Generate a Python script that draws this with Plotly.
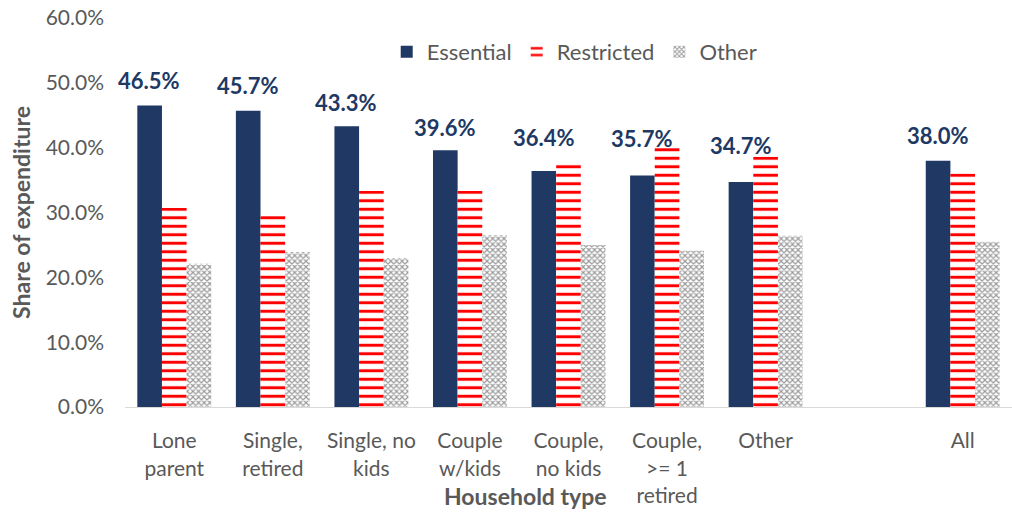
import plotly.graph_objects as go

categories = ["Lone<br>parent", "Single,<br>retired", "Single, no<br>kids", "Couple<br>w/kids",
              "Couple,<br>no kids", "Couple,<br>>= 1<br>retired", "Other", " ", "All"]
essential = [0.465, 0.457, 0.433, 0.396, 0.364, 0.357, 0.347, None, 0.380]
restricted = [0.307, 0.295, 0.333, 0.333, 0.377, 0.400, 0.386, None, 0.360]
other = [0.221, 0.239, 0.230, 0.265, 0.250, 0.241, 0.264, None, 0.255]
label_shift = [25, 25, 24, 23, 34, 37, 37, 0, 25]

FONT = "Lato"
GRAY = "#595959"
NAVY = "#203864"

fig = go.Figure()
fig.add_trace(go.Bar(name="Essential", x=categories, y=essential,
                     marker=dict(color=NAVY, line=dict(width=0))))
fig.add_trace(go.Bar(name="Restricted", x=categories, y=restricted,
                     marker=dict(color="white", line=dict(width=0),
                                 pattern=dict(shape="-", fgcolor="#ff0000", bgcolor="white",
                                              fgopacity=1, size=8.5, solidity=0.35,
                                              fillmode="overlay"))))
fig.add_trace(go.Bar(name="Other", x=categories, y=other,
                     marker=dict(color="white", line=dict(width=0),
                                 pattern=dict(shape="x", fgcolor="#9a9a9a", bgcolor="white",
                                              fgopacity=1, size=4, solidity=0.5,
                                              fillmode="overlay"))))

for c, v, s in zip(categories, essential, label_shift):
    if v is None:
        continue
    fig.add_annotation(x=c, y=v, text=f"<b>{v*100:.1f}%</b>", showarrow=False,
                       xshift=-25, yshift=s, yanchor="middle",
                       font=dict(family=FONT, size=22, color=NAVY))

fig.add_annotation(xref="paper", yref="paper", x=0.451, y=-0.229, xanchor="center", yanchor="middle",
                   text="<b>Household type</b>", showarrow=False,
                   font=dict(family=FONT, size=23, color=GRAY))

fig.update_layout(
    width=1012, height=513,
    margin=dict(l=125, r=0, t=18, b=106),
    paper_bgcolor="white", plot_bgcolor="white",
    barmode="group", bargap=0.25, bargroupgap=0,
    font=dict(family=FONT, color=GRAY, size=17),
    legend=dict(orientation="h", x=0.507, xanchor="center", y=0.913, yanchor="middle",
                font=dict(family=FONT, size=22, color=GRAY), itemwidth=30,
                bgcolor="rgba(0,0,0,0)"),
    xaxis=dict(type="category", showgrid=False, showline=True, linecolor="#d9d9d9", linewidth=1,
               ticks="", automargin=False, ticklabelstandoff=15,
               tickfont=dict(family=FONT, size=21, color=GRAY),
               range=[-0.5, 8.5]),
    yaxis=dict(range=[0, 0.6], dtick=0.1, tickformat=".1%", showgrid=False, showline=False,
               zeroline=False, ticks="", ticklabelstandoff=20, automargin=False,
               ticklabeloverflow="allow",
               tickfont=dict(family=FONT, size=21, color=GRAY),
               title=dict(text="<b>Share of expenditure</b>", font=dict(family=FONT, size=23, color=GRAY),
                          standoff=8)),
)

# remove the browser's default 8px body margin so the figure fills the window
fig.write_html("out.html", config={"displayModeBar": False},
               post_script="document.body.style.margin='0';")
